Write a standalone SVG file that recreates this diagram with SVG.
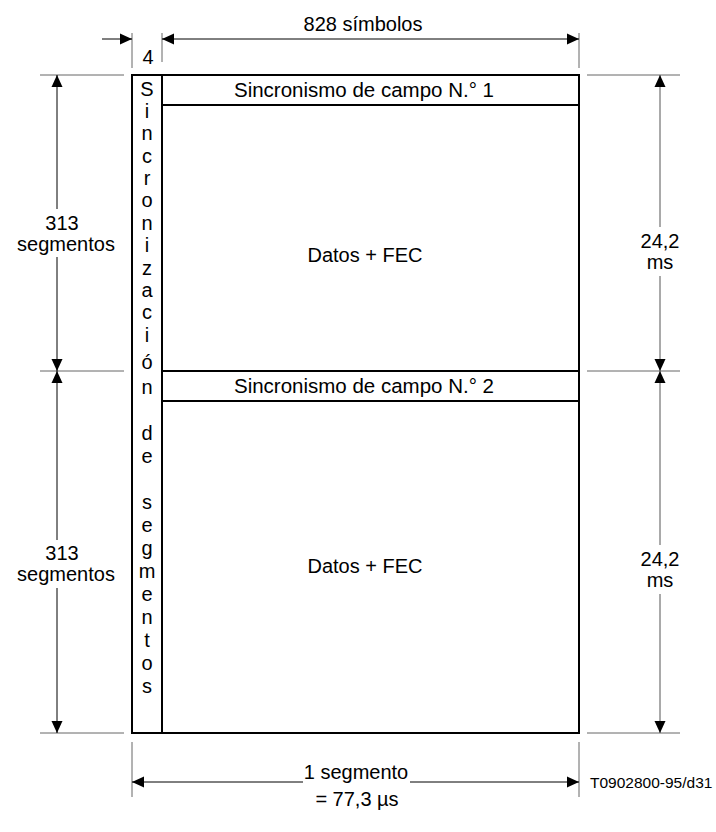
<svg xmlns="http://www.w3.org/2000/svg" width="716" height="832" viewBox="0 0 716 832">
<style>
text{font-family:"Liberation Sans",Arial,sans-serif;font-size:20px;fill:#000}
.frame{fill:none;stroke:#000;stroke-width:2}
.ext{stroke:#666;stroke-width:1;fill:none}
.dim{stroke:#000;stroke-width:1;fill:none}
.dimg{stroke:#555;stroke-width:1;fill:none}
.m{text-anchor:middle}
.v{text-anchor:middle}
.sy{font-size:20.5px}
.small{font-size:15.5px}
</style>
<defs>
<marker id="ah" viewBox="0 0 12 12" refX="12" refY="6" markerWidth="12" markerHeight="12" markerUnits="userSpaceOnUse" orient="auto-start-reverse">
<path d="M0,0.5 L12,6 L0,11.5 Z" fill="#000"/>
</marker>
</defs>

<g id="frame">
<rect class="frame" x="132" y="75" width="447" height="658"/>
<line class="frame" x1="162" y1="75" x2="162" y2="733"/>
</g>

<g id="sync1">
<line class="frame" x1="162" y1="105" x2="579" y2="105"/>
<text class="m sy" x="364" y="97">Sincronismo de campo N.° 1</text>
</g>

<g id="data1">
<text class="m" x="365" y="262">Datos + FEC</text>
</g>

<g id="sync2">
<line class="frame" x1="162" y1="371" x2="579" y2="371"/>
<line class="frame" x1="162" y1="401" x2="579" y2="401"/>
<text class="m sy" x="364" y="393">Sincronismo de campo N.° 2</text>
</g>

<g id="data2">
<text class="m" x="365" y="573">Datos + FEC</text>
</g>

<g id="segsync">
<text class="v" x="147" y="96">S</text>
<text class="v" x="147" y="118">i</text>
<text class="v" x="147" y="140">n</text>
<text class="v" x="147" y="163">c</text>
<text class="v" x="147" y="185">r</text>
<text class="v" x="147" y="207">o</text>
<text class="v" x="147" y="230">n</text>
<text class="v" x="147" y="252">i</text>
<text class="v" x="147" y="275">z</text>
<text class="v" x="147" y="297">a</text>
<text class="v" x="147" y="319">c</text>
<text class="v" x="147" y="342">i</text>
<text class="v" x="147" y="369">ó</text>
<text class="v" x="147" y="394">n</text>
<text class="v" x="147" y="440">d</text>
<text class="v" x="147" y="463">e</text>
<text class="v" x="147" y="509">s</text>
<text class="v" x="147" y="532">e</text>
<text class="v" x="147" y="555">g</text>
<text class="v" x="147" y="578">m</text>
<text class="v" x="147" y="601">e</text>
<text class="v" x="147" y="624">n</text>
<text class="v" x="147" y="647">t</text>
<text class="v" x="147" y="670">o</text>
<text class="v" x="147" y="693">s</text>
</g>

<g id="connectors">
<!-- extension lines -->
<line class="ext" x1="40" y1="75" x2="124" y2="75"/>
<line class="ext" x1="587" y1="75" x2="680" y2="75"/>
<line class="ext" x1="40" y1="371" x2="124" y2="371"/>
<line class="ext" x1="587" y1="371" x2="680" y2="371"/>
<line class="ext" x1="40" y1="733" x2="124" y2="733"/>
<line class="ext" x1="587" y1="733" x2="680" y2="733"/>
<line class="ext" x1="132" y1="33" x2="132" y2="68"/>
<line class="ext" x1="162" y1="33" x2="162" y2="62"/>
<line class="ext" x1="579" y1="33" x2="579" y2="68"/>
<line class="ext" x1="132" y1="742" x2="132" y2="797"/>
<line class="ext" x1="579" y1="742" x2="579" y2="797"/>
<!-- top dimensions -->
<line class="dim" x1="102" y1="39" x2="132" y2="39" marker-end="url(#ah)"/>
<line class="dim" x1="162" y1="39" x2="579" y2="39" marker-start="url(#ah)" marker-end="url(#ah)"/>
<!-- left dimensions -->
<line class="dim" x1="57" y1="209" x2="57" y2="75" marker-end="url(#ah)"/>
<line class="dim" x1="57" y1="257" x2="57" y2="371" marker-end="url(#ah)"/>
<line class="dim" x1="57" y1="540" x2="57" y2="371" marker-end="url(#ah)"/>
<line class="dim" x1="57" y1="588" x2="57" y2="733" marker-end="url(#ah)"/>
<!-- right dimensions -->
<line class="dimg" x1="660" y1="227" x2="660" y2="75" marker-end="url(#ah)"/>
<line class="dimg" x1="660" y1="276" x2="660" y2="371" marker-end="url(#ah)"/>
<line class="dimg" x1="660" y1="545" x2="660" y2="371" marker-end="url(#ah)"/>
<line class="dimg" x1="660" y1="594" x2="660" y2="733" marker-end="url(#ah)"/>
<!-- bottom dimension -->
<line class="dim" x1="303" y1="782" x2="132" y2="782" marker-end="url(#ah)"/>
<line class="dim" x1="410" y1="782" x2="579" y2="782" marker-end="url(#ah)"/>
</g>

<g id="labels">
<text class="m" x="363" y="31">828 símbolos</text>
<text class="m" x="148" y="64">4</text>
<text class="m" x="62" y="230">313</text>
<text class="m" x="66" y="251">segmentos</text>
<text class="m" x="62" y="560">313</text>
<text class="m" x="66" y="581">segmentos</text>
<text class="m" x="660" y="248">24,2</text>
<text class="m" x="660" y="269">ms</text>
<text class="m" x="660" y="566">24,2</text>
<text class="m" x="660" y="587">ms</text>
<text class="m" x="356" y="779">1 segmento</text>
<text class="m" x="357" y="806">= 77,3 µs</text>
<text class="small" x="590" y="788">T0902800-95/d31</text>
</g>
</svg>
